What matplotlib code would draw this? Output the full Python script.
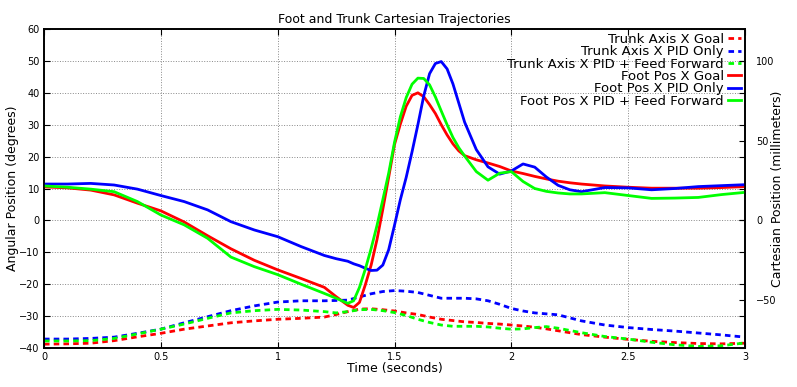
import numpy as np
import matplotlib
matplotlib.use('Agg')
import matplotlib.pyplot as plt

# time samples for trunk curves (seconds)
trunk_time = [0, 0.1, 0.2, 0.3, 0.4, 0.5, 0.6, 0.7, 0.8, 0.9, 1.0, 1.1, 1.2, 1.25, 1.3, 1.35,
              1.4, 1.45, 1.5, 1.55, 1.6, 1.65, 1.7, 1.75, 1.8, 1.85, 1.9, 1.95, 2.0, 2.05, 2.1,
              2.15, 2.2, 2.3, 2.4, 2.5, 2.6, 2.7, 2.8, 2.9, 3.0]

# trunk axis (degrees, left axis)
trunk_goal = [-38.8, -38.7, -38.5, -37.7, -36.5, -35.4, -34.1, -33.1, -32.1, -31.5, -31.0,
              -30.7, -30.3, -29.5, -28.6, -27.8, -27.7, -28.0, -28.4, -29.0, -29.5, -30.3,
              -31.0, -31.4, -31.8, -32.0, -32.3, -32.5, -32.8, -33.1, -33.5, -34.0, -34.6,
              -35.8, -36.6, -37.3, -37.9, -38.3, -38.6, -38.7, -38.5]
trunk_pid = [-37.2, -37.2, -37.0, -36.6, -35.4, -34.1, -32.1, -30.2, -28.3, -26.8, -25.6,
             -25.2, -25.2, -25.1, -25.0, -24.0, -23.0, -22.3, -22.0, -22.2, -22.6, -23.5,
             -24.4, -24.4, -24.4, -24.6, -25.2, -26.3, -27.6, -28.4, -29.0, -29.3, -29.6,
             -31.5, -32.8, -33.6, -34.2, -34.7, -35.3, -35.9, -36.6]
trunk_pid_ff = [-37.8, -37.8, -37.7, -37.0, -35.6, -34.1, -32.5, -30.7, -29.0, -28.3, -27.9,
                -28.1, -28.6, -29.0, -28.6, -28.0, -27.9, -28.3, -28.9, -29.8, -31.0, -32.0,
                -32.8, -33.2, -33.2, -33.2, -33.4, -33.8, -34.1, -34.0, -33.6, -33.3, -33.8,
                -35.2, -36.4, -37.2, -38.2, -39.0, -39.5, -39.3, -38.4]

# time samples for foot curves (seconds)
foot_time = [0, 0.1, 0.2, 0.3, 0.4, 0.5, 0.6, 0.7, 0.8, 0.9, 1.0, 1.1, 1.2, 1.25, 1.3,
             1.325, 1.35, 1.375, 1.4, 1.425, 1.45, 1.475, 1.5, 1.525, 1.55, 1.575, 1.6,
             1.625, 1.65, 1.675, 1.7, 1.725, 1.75, 1.775, 1.8, 1.85, 1.9, 1.95, 2.0, 2.05,
             2.1, 2.15, 2.2, 2.25, 2.3, 2.4, 2.5, 2.6, 2.7, 2.8, 2.9, 3.0]

# foot position (millimeters, right axis)
foot_goal = [21.0, 20.4, 19.0, 16.0, 10.8, 6.0, -1.0, -9.6, -17.8, -25.0, -31.0, -36.4, -42.0,
             -47.8, -53.2, -54.6, -51.4, -40.4, -28.0, -12.0, 7.0, 27.0, 47.6, 60.4, 71.6,
             78.4, 80.0, 77.6, 72.6, 67.0, 60.0, 53.6, 48.0, 43.6, 40.6, 38.0, 36.0, 33.8,
             31.0, 29.4, 27.6, 26.0, 24.6, 23.6, 22.8, 21.6, 20.8, 20.2, 20.2, 20.2, 20.6, 21.2]
foot_pid = [22.8, 22.8, 23.2, 22.2, 19.6, 15.6, 11.8, 6.6, -0.8, -6.0, -10.2, -16.4, -22.0,
            -24.0, -25.6, -27.2, -28.4, -30.0, -31.4, -31.2, -28.0, -18.4, -3.0, 13.0, 27.0,
            43.0, 60.0, 78.0, 92.0, 98.4, 99.6, 95.0, 85.6, 73.6, 61.6, 44.4, 33.6, 29.0,
            31.0, 35.4, 33.4, 27.2, 22.0, 19.2, 18.0, 20.6, 20.4, 19.2, 20.0, 21.2, 21.8, 22.4]
foot_pid_ff = [21.6, 20.8, 19.6, 18.0, 11.8, 3.4, -2.8, -11.2, -23.0, -29.0, -34.0, -40.0,
               -45.8, -48.8, -52.0, -50.4, -42.0, -30.6, -17.6, -3.2, 13.0, 29.6, 49.0, 65.0,
               77.0, 85.4, 89.2, 89.0, 85.0, 77.4, 68.6, 60.0, 52.0, 45.6, 40.4, 30.6, 25.2,
               29.6, 30.6, 24.4, 20.0, 18.2, 17.2, 16.6, 16.6, 17.4, 15.6, 13.8, 14.0, 14.4,
               16.2, 17.6]

fig = plt.figure(figsize=(7.97, 3.87), dpi=100)
ax = fig.add_axes([0.0552, 0.1008, 0.8796, 0.8242])
ax2 = ax.twinx()

lw = 2.0
dash = (0, (2, 1.5))
l1, = ax.plot(trunk_time, trunk_goal, color='#ff0000', ls=dash, lw=lw, label='Trunk Axis X Goal')
l2, = ax.plot(trunk_time, trunk_pid, color='#0000ff', ls=dash, lw=lw, label='Trunk Axis X PID Only')
l3, = ax.plot(trunk_time, trunk_pid_ff, color='#00ff00', ls=dash, lw=lw, label='Trunk Axis X PID + Feed Forward')
l4, = ax2.plot(foot_time, foot_goal, color='#ff0000', lw=lw, label='Foot Pos X Goal')
l5, = ax2.plot(foot_time, foot_pid, color='#0000ff', lw=lw, label='Foot Pos X PID Only')
l6, = ax2.plot(foot_time, foot_pid_ff, color='#00ff00', lw=lw, label='Foot Pos X PID + Feed Forward')

ax.set_xlim(0, 3)
ax.set_ylim(-40, 60)
ax2.set_ylim(-80, 120)
ax.set_xticks([0, 0.5, 1, 1.5, 2, 2.5, 3])
ax.set_xticklabels(['0', '0.5', '1', '1.5', '2', '2.5', '3'])
ax.set_yticks(range(-40, 61, 10))
ax2.set_yticks([-50, 0, 50, 100])

ax.grid(True, color='#888888', ls=':', lw=0.7)
ax.tick_params(labelsize=7, direction='in', length=4, top=True, right=True, pad=3)
ax2.tick_params(labelsize=7, direction='in', length=4, pad=8)
for a in (ax, ax2):
    for s in a.spines.values():
        s.set_linewidth(1.2)

ax.set_title('Foot and Trunk Cartesian Trajectories', fontsize=9, pad=4)
ax.set_xlabel('Time (seconds)', fontsize=9, labelpad=0)
ax.set_ylabel('Angular Position (degrees)', fontsize=9, labelpad=0)
ax2.set_ylabel('Cartesian Position (millimeters)', fontsize=9, labelpad=-4)

leg = ax2.legend(handles=[l1, l2, l3, l4, l5, l6], loc='upper right', frameon=False,
                 fontsize=9.5, markerfirst=False, handlelength=1.0, handletextpad=0.3,
                 labelspacing=-0.05, borderaxespad=0.1, borderpad=0.2)

fig.savefig('out.png', dpi=100)
